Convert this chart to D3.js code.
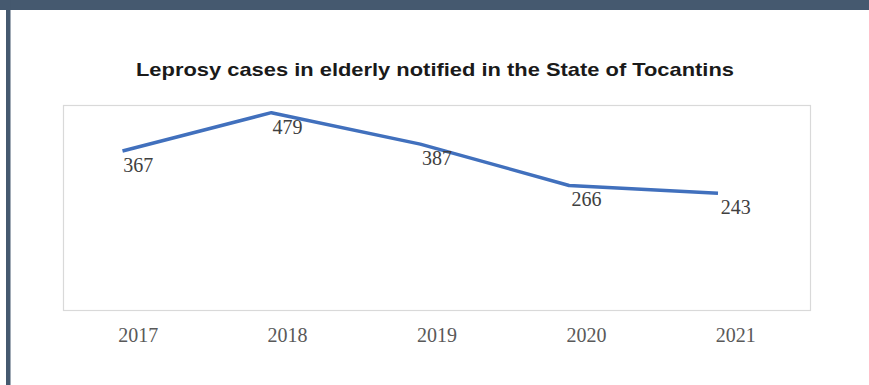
<!DOCTYPE html>
<html lang="en">
<head>
<meta charset="UTF-8">
<title>Leprosy cases in elderly</title>
<script src="https://cdnjs.cloudflare.com/ajax/libs/d3/7.8.5/d3.min.js"></script>
<style>
  body { margin: 0; padding: 0; background: #fff; overflow: hidden; }
  svg { display: block; }
</style>
</head>
<body>
<svg id="chart" width="869" height="385"></svg>
<script>
const years = ["2017", "2018", "2019", "2020", "2021"];
const cases = [367, 479, 387, 266, 243];

const width = 869, height = 385;
const svg = d3.select("#chart");

// frame like the screenshot: dark top band and thin left bar
svg.append("rect").attr("x", 0).attr("y", 0).attr("width", width).attr("height", 10).attr("fill", "#45596f");
svg.append("rect").attr("x", 6).attr("y", 0).attr("width", 4.5).attr("height", height).attr("fill", "#45596f");
svg.append("rect").attr("x", 0).attr("y", 0).attr("width", 10.5).attr("height", 10).attr("fill", "#45596f");

const plot = { left: 63.5, right: 810.5, top: 105.5, bottom: 310.5 };

svg.append("rect")
  .attr("x", plot.left).attr("y", plot.top)
  .attr("width", plot.right - plot.left).attr("height", plot.bottom - plot.top)
  .attr("fill", "none").attr("stroke", "#d9d9d9").attr("stroke-width", 1.2);

// categories for axis labels and data labels
const x = d3.scaleBand().domain(years).range([plot.left, plot.right]);
// the line itself sits a little left of the category centres in the reference
const xLine = d3.scalePoint().domain(years).range([122.5, 718]);
const y = d3.scaleLinear().domain([-100, 500]).range([plot.bottom, plot.top]);

const serif = "'Liberation Serif', 'Times New Roman', serif";

svg.append("g")
  .attr("transform", `translate(0,${plot.bottom})`)
  .call(d3.axisBottom(x).tickSize(0).tickPadding(17))
  .call(g => g.select(".domain").remove())
  .selectAll("text")
  .attr("font-family", serif)
  .attr("font-size", 20)
  .attr("fill", "#595959");

const line = d3.line()
  .x((d, i) => xLine(years[i]))
  .y(d => y(d));

svg.append("path")
  .datum(cases)
  .attr("d", line)
  .attr("fill", "none")
  .attr("stroke", "#4170bd")
  .attr("stroke-width", 3.5)
  .attr("stroke-linejoin", "round");

svg.append("g")
  .selectAll("text")
  .data(cases)
  .join("text")
  .attr("x", (d, i) => x(years[i]) + x.bandwidth() / 2)
  .attr("y", d => y(d) + 21)
  .attr("text-anchor", "middle")
  .attr("font-family", serif)
  .attr("font-size", 20)
  .attr("fill", "#404040")
  .text(d => d);

svg.append("text")
  .attr("x", 435)
  .attr("y", 76)
  .attr("text-anchor", "middle")
  .attr("font-family", "'Liberation Sans', Arial, sans-serif")
  .attr("font-weight", "bold")
  .attr("font-size", 18.5)
  .attr("textLength", 598)
  .attr("lengthAdjust", "spacingAndGlyphs")
  .attr("fill", "#1a1a1a")
  .text("Leprosy cases in elderly notified in the State of Tocantins");
</script>
</body>
</html>
